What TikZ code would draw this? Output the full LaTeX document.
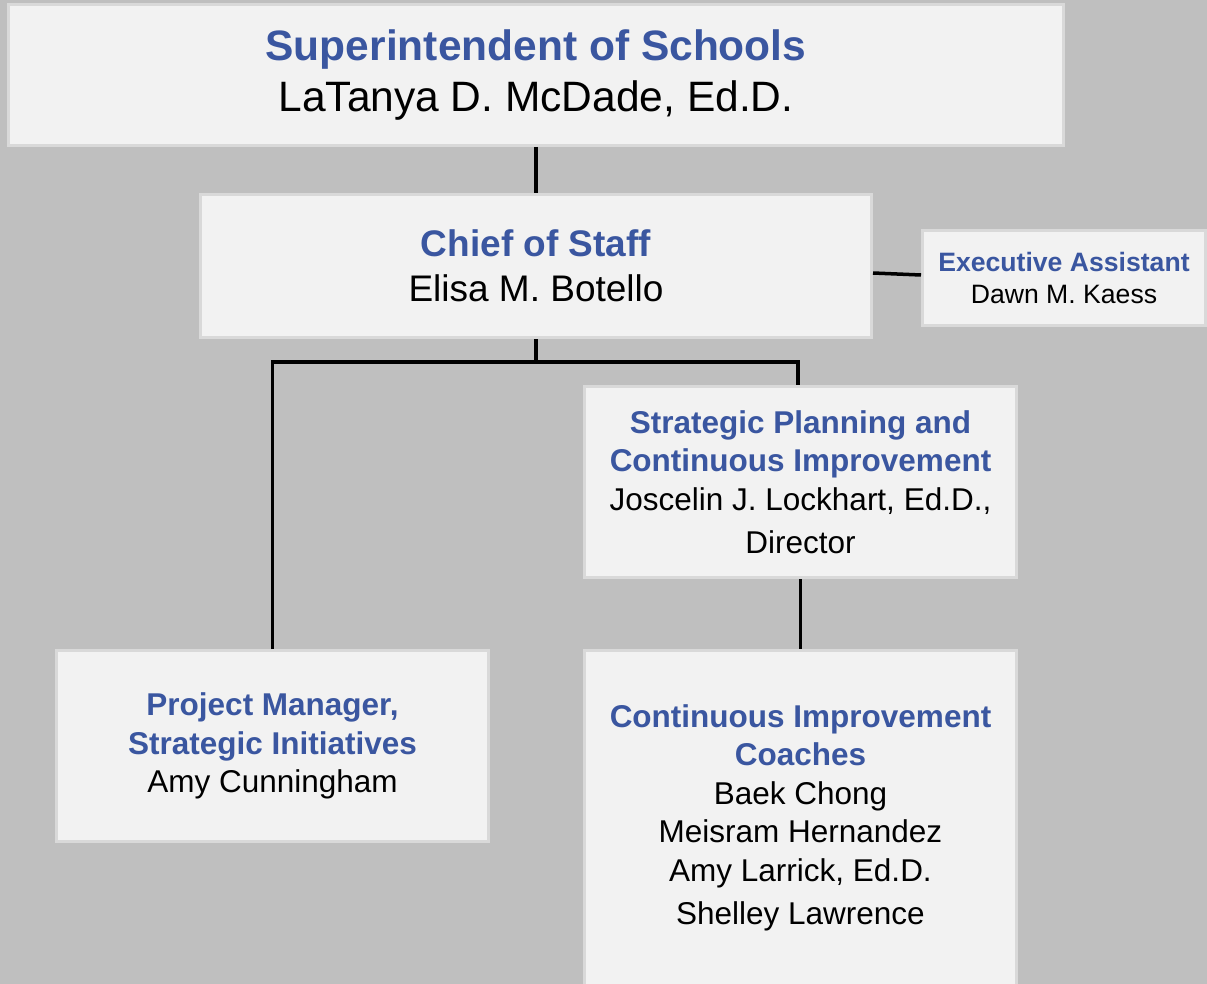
\documentclass[tikz,border=0pt]{standalone}
\usepackage{fontspec}
\setmainfont{Liberation Sans}
\definecolor{bg}{HTML}{BFBFBF}
\definecolor{boxfill}{HTML}{F2F2F2}
\definecolor{boxline}{HTML}{D9D9D9}
\definecolor{titleblue}{HTML}{3A56A0}
\newcommand{\ttl}[1]{{\bfseries\color{titleblue}#1}}
\begin{document}
\begin{tikzpicture}[x=1pt,y=-1pt,
  box/.style={draw=boxline,fill=boxfill,line width=3pt,inner sep=0pt,align=center,text=black},
  conn/.style={draw=black,line width=3.5pt}]
\useasboundingbox[fill=bg] (0,0) rectangle (1207,984);
\node[box,minimum width=1055pt,minimum height=141pt,font=\fontsize{42.5}{51}\selectfont] (supt) at (536,75)
  {\ttl{Superintendent of Schools}\\LaTanya D. McDade, Ed.D.\rule[-5pt]{0pt}{5pt}};
\node[box,minimum width=671pt,minimum height=143pt,font=\fontsize{37}{45}\selectfont] (cos) at (536,266)
  {\ttl{Chief of Staff}\\Elisa M. Botello};
\node[box,minimum width=283pt,minimum height=95pt,font=\fontsize{26.6}{32}\selectfont] (exec) at (1064,278)
  {\ttl{Executive Assistant}\\Dawn M. Kaess};
\node[box,minimum width=432pt,minimum height=191pt,font=\fontsize{31.5}{38.5}\selectfont] (sp) at (800.5,482)
  {\ttl{Strategic Planning and}\\\ttl{Continuous Improvement}\\Joscelin J. Lockhart, Ed.D.,\\[4.5pt]Director};
\node[box,minimum width=432pt,minimum height=191pt,font=\fontsize{31.5}{38.5}\selectfont] (pm) at (272.5,746)
  {\ttl{Project Manager,}\\\ttl{Strategic Initiatives}\\Amy Cunningham\rule[-5pt]{0pt}{5pt}};
\node[box,minimum width=432pt,minimum height=334.5pt,font=\fontsize{31.5}{38.5}\selectfont] (ci) at (800.5,817.75)
  {\ttl{Continuous Improvement}\\\ttl{Coaches}\\Baek Chong\\Meisram Hernandez\\Amy Larrick, Ed.D.\\[4.5pt]Shelley Lawrence\rule[-4pt]{0pt}{4pt}};
\coordinate (br) at ([yshift=-23pt]cos.south);
\draw[conn] (supt.south) -- (cos.north);
\draw[conn] ([yshift=-7pt]cos.east) -- ([yshift=3pt]exec.west);
\draw[conn] (cos.south) -- (br);
\draw[conn] (pm.north) |- (br) -| ([xshift=-2.5pt]sp.north);
\draw[conn] (sp.south) -- (ci.north);
\end{tikzpicture}
\end{document}
